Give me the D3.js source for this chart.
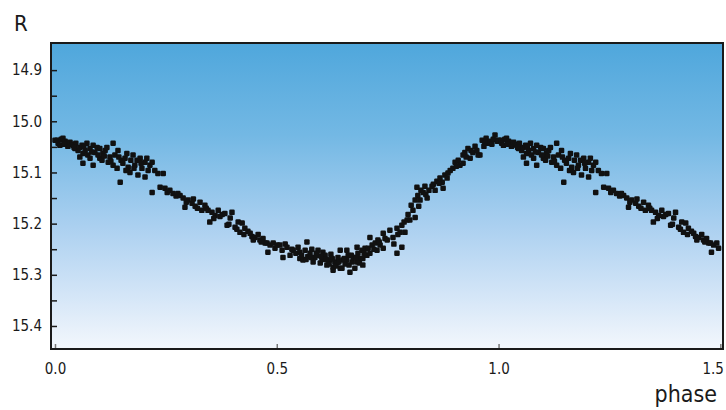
<!DOCTYPE html>
<html>
<head>
<meta charset="utf-8">
<script src="https://cdn.jsdelivr.net/npm/d3@7"></script>
<style>
  body { margin: 0; background: #fff; }
  svg text { font-family: "DejaVu Sans Condensed", "Liberation Sans", sans-serif; fill: #1a1a1a; }
</style>
</head>
<body>
<div id="vis"></div>
<script>
// phase-folded light curve, one cycle (phase 0..1)
const PHASE = [
  0.000, 0.005, 0.007, 0.011, 0.014, 0.018, 0.023, 0.027, 0.029, 0.034, 0.038, 0.041, 0.045, 0.047,
  0.052, 0.056, 0.056, 0.061, 0.063, 0.063, 0.068, 0.072, 0.074, 0.079, 0.079, 0.086, 0.086, 0.090,
  0.095, 0.101, 0.101, 0.106, 0.108, 0.113, 0.117, 0.120, 0.124,
  0.131, 0.131, 0.135, 0.140, 0.142, 0.147, 0.149, 0.153, 0.158, 0.162, 0.165, 0.169, 0.171, 0.176,
  0.180, 0.185, 0.187, 0.192, 0.196, 0.203, 0.203, 0.207, 0.214, 0.219, 0.219, 0.225, 0.232, 0.237,
  0.244, 0.248, 0.253, 0.259,
  0.266, 0.273, 0.282, 0.289, 0.293, 0.300, 0.309, 0.316, 0.327, 0.331, 0.338, 0.345, 0.349, 0.354,
  0.361, 0.368, 0.377, 0.383, 0.388, 0.395, 0.399, 0.406, 0.413, 0.417, 0.422, 0.428, 0.435, 0.440,
  0.444, 0.451, 0.458, 0.462, 0.469, 0.474, 0.478, 0.480, 0.485,
  0.492, 0.496, 0.501, 0.507, 0.512, 0.514, 0.519, 0.523, 0.530, 0.534, 0.537, 0.543, 0.548, 0.552,
  0.552, 0.559, 0.564, 0.568, 0.570, 0.575, 0.579, 0.582, 0.586, 0.591, 0.593, 0.598, 0.602, 0.604,
  0.604, 0.609, 0.613, 0.616, 0.620, 0.622, 0.627, 0.627, 0.631, 0.636, 0.638, 0.643, 0.643, 0.647,
  0.649, 0.654, 0.658, 0.658, 0.661, 0.665, 0.670, 0.672, 0.676, 0.681, 0.681, 0.683, 0.688, 0.692,
  0.694, 0.694, 0.699, 0.703, 0.710, 0.710, 0.715, 0.722, 0.726, 0.728, 0.733, 0.740, 0.740, 0.744,
  0.749, 0.755, 0.762, 0.764, 0.771, 0.771, 0.773,
  0.778, 0.782, 0.782, 0.787, 0.789, 0.794, 0.796, 0.800, 0.803, 0.807, 0.812, 0.812, 0.816, 0.818,
  0.823, 0.825, 0.830, 0.834, 0.839, 0.843, 0.850, 0.857, 0.861, 0.868, 0.873, 0.875, 0.879, 0.884,
  0.891, 0.897, 0.902, 0.909, 0.913, 0.920, 0.920, 0.924, 0.931, 0.936, 0.938, 0.942, 0.947, 0.954,
  0.958, 0.963, 0.967, 0.972, 0.976, 0.981, 0.988, 0.992, 0.997,
  0.556, 0.566, 0.577, 0.589, 0.600, 0.611, 0.618, 0.625, 0.633, 0.640, 0.652, 0.663, 0.668, 0.679,
  0.686, 0.697, 0.706, 0.719, 0.731,
  0.277, 0.296, 0.312, 0.321, 0.341, 0.358, 0.372, 0.392, 0.410, 0.426, 0.447, 0.465,
  0.020, 0.043, 0.065, 0.083, 0.097, 0.111, 0.126, 0.144, 0.160, 0.178, 0.194, 0.210,
  0.820, 0.836, 0.853, 0.866, 0.886, 0.905, 0.927, 0.951, 0.969, 0.985
];
const MAG = [
  15.037, 15.037, 15.043, 15.047, 15.035, 15.033, 15.039, 15.043, 15.049, 15.041, 15.045, 15.047, 15.053, 15.043,
  15.057, 15.051, 15.070, 15.047, 15.063, 15.082, 15.057, 15.043, 15.066, 15.072, 15.053, 15.047, 15.086, 15.061,
  15.051, 15.053, 15.072, 15.076, 15.063, 15.057, 15.051, 15.080, 15.070,
  15.043, 15.086, 15.066, 15.092, 15.057, 15.119, 15.076, 15.082, 15.072, 15.063, 15.090, 15.100, 15.076, 15.066,
  15.086, 15.076, 15.105, 15.072, 15.092, 15.109, 15.080, 15.072, 15.086, 15.080, 15.139, 15.096, 15.102, 15.129,
  15.102, 15.131, 15.139, 15.135,
  15.141, 15.146, 15.145, 15.150, 15.168, 15.154, 15.160, 15.166, 15.158, 15.174, 15.164, 15.174, 15.197, 15.178,
  15.184, 15.174, 15.182, 15.180, 15.203, 15.189, 15.178, 15.207, 15.197, 15.217, 15.199, 15.209, 15.215, 15.219,
  15.225, 15.227, 15.221, 15.232, 15.229, 15.238, 15.238, 15.256, 15.242,
  15.238, 15.248, 15.242, 15.242, 15.252, 15.266, 15.240, 15.246, 15.262, 15.250, 15.252, 15.258, 15.246, 15.256,
  15.268, 15.271, 15.252, 15.236, 15.264, 15.258, 15.250, 15.275, 15.266, 15.262, 15.252, 15.277, 15.270, 15.256,
  15.268, 15.262, 15.281, 15.271, 15.271, 15.260, 15.285, 15.291, 15.275, 15.277, 15.266, 15.287, 15.252, 15.287,
  15.271, 15.279, 15.271, 15.252, 15.262, 15.295, 15.275, 15.266, 15.287, 15.275, 15.246, 15.258, 15.268, 15.252,
  15.268, 15.281, 15.248, 15.262, 15.258, 15.227, 15.242, 15.238, 15.252, 15.232, 15.242, 15.248, 15.219, 15.229,
  15.232, 15.213, 15.227, 15.240, 15.209, 15.258, 15.221,
  15.217, 15.203, 15.246, 15.197, 15.217, 15.193, 15.182, 15.193, 15.164, 15.174, 15.188, 15.154, 15.129, 15.145,
  15.154, 15.135, 15.139, 15.127, 15.150, 15.135, 15.127, 15.135, 15.117, 15.111, 15.119, 15.131, 15.105, 15.111,
  15.096, 15.092, 15.080, 15.076, 15.086, 15.082, 15.066, 15.061, 15.053, 15.072, 15.057, 15.061, 15.049, 15.066,
  15.066, 15.037, 15.049, 15.033, 15.043, 15.039, 15.035, 15.027, 15.039,
  15.262, 15.270, 15.266, 15.258, 15.264, 15.270, 15.279, 15.268, 15.283, 15.275, 15.268, 15.281, 15.262, 15.266,
  15.277, 15.258, 15.248, 15.250, 15.236,
  15.141, 15.158, 15.152, 15.170, 15.170, 15.190, 15.186, 15.201, 15.211, 15.221, 15.232, 15.236,
  15.045, 15.051, 15.049, 15.060, 15.066, 15.068, 15.078, 15.070, 15.096, 15.092, 15.082, 15.096,
  15.166, 15.143, 15.123, 15.121, 15.101, 15.088, 15.070, 15.057, 15.041, 15.045
];

const Y_TICKS = [14.9, 15.0, 15.1, 15.2, 15.3, 15.4];
const Y_MINOR = [14.95, 15.05, 15.15, 15.25, 15.35];
const X_TICKS = [0.0, 0.5, 1.0, 1.5];

const WIDTH = 726;
const HEIGHT = 410;
const PLOT = {left: 51, right: 723, top: 43, bottom: 349};

const svg = d3.select("#vis")
              .append("svg")
                .attr("width", WIDTH)
                .attr("height", HEIGHT);

// sky-like background gradient
const defs = svg.append("defs");
const grad = defs.append("linearGradient")
                 .attr("id", "bg")
                 .attr("x1", 0).attr("y1", 0)
                 .attr("x2", 0).attr("y2", 1);
[[0, "#4fa7dc"], [0.3, "#73b8e4"], [0.6, "#abd0f0"], [0.82, "#d3e5f7"], [1, "#f3f7fc"]]
  .forEach((s) => { grad.append("stop").attr("offset", s[0]).attr("stop-color", s[1]); });

defs.append("clipPath").attr("id", "clip")
    .append("rect")
      .attr("x", PLOT.left).attr("y", PLOT.top)
      .attr("width", PLOT.right - PLOT.left)
      .attr("height", PLOT.bottom - PLOT.top);

const X_SCALE = d3.scaleLinear()
                  .domain([-0.009, 1.506])
                  .range([PLOT.left, PLOT.right]);
const Y_SCALE = d3.scaleLinear()
                  .domain([14.847, 15.445])
                  .range([PLOT.top, PLOT.bottom]);

svg.append("rect")
    .attr("x", PLOT.left).attr("y", PLOT.top)
    .attr("width", PLOT.right - PLOT.left)
    .attr("height", PLOT.bottom - PLOT.top)
    .attr("fill", "url(#bg)");

// one cycle plus the first half repeated after phase 1
const points = PHASE.map((p, i) => ({phase: p, mag: MAG[i]}));
const shown = points.concat(points.filter((d) => d.phase <= 0.5)
                                  .map((d) => ({phase: d.phase + 1, mag: d.mag})));

const S = 5.5;
svg.append("g")
    .attr("clip-path", "url(#clip)")
  .selectAll("rect")
    .data(shown)
    .enter()
    .append("rect")
      .attr("x", (d) => X_SCALE(d.phase) - S / 2)
      .attr("y", (d) => Y_SCALE(d.mag) - S / 2)
      .attr("width", S)
      .attr("height", S)
      .attr("rx", 1.2)
      .attr("fill", "#111");

// y axis, ticks pointing inward
const yAxis = svg.append("g")
    .attr("transform", "translate(" + PLOT.left + ",0)")
    .call(d3.axisLeft(Y_SCALE).tickValues(Y_TICKS).tickFormat(d3.format(".1f"))
            .tickSizeInner(-6).tickSizeOuter(0).tickPadding(9));
yAxis.select(".domain").remove();
yAxis.selectAll("line").attr("stroke", "#1a1a1a").attr("stroke-width", 1.5);
yAxis.selectAll("text").attr("font-size", "15px").attr("font-family", null);

const yMinor = svg.append("g")
    .attr("transform", "translate(" + PLOT.left + ",0)")
    .call(d3.axisLeft(Y_SCALE).tickValues(Y_MINOR).tickFormat("").tickSizeInner(-6).tickSizeOuter(0));
yMinor.select(".domain").remove();
yMinor.selectAll("line").attr("stroke", "#1a1a1a").attr("stroke-width", 1.5);

// x axis
const xAxis = svg.append("g")
    .attr("transform", "translate(0," + PLOT.bottom + ")")
    .call(d3.axisBottom(X_SCALE).tickValues(X_TICKS).tickFormat(d3.format(".1f"))
            .tickSizeInner(-5).tickSizeOuter(0).tickPadding(14));
xAxis.select(".domain").remove();
xAxis.selectAll("line").attr("stroke", "#777").attr("stroke-width", 1.5);
xAxis.selectAll("text").attr("font-size", "15px").attr("font-family", null);
// keep the last label inside the window
xAxis.selectAll("text").filter((d) => d === 1.5).attr("text-anchor", "end").attr("dx", "3px");

// frame
svg.append("rect")
    .attr("x", PLOT.left).attr("y", PLOT.top)
    .attr("width", PLOT.right - PLOT.left)
    .attr("height", PLOT.bottom - PLOT.top)
    .attr("fill", "none")
    .attr("stroke", "#1a1a1a")
    .attr("stroke-width", 2);

svg.append("text")
    .attr("x", 14).attr("y", 31)
    .attr("font-size", "22px")
    .text("R");

svg.append("text")
    .attr("x", 717).attr("y", 402)
    .attr("text-anchor", "end")
    .attr("font-size", "23px")
    .text("phase");
</script>
</body>
</html>
